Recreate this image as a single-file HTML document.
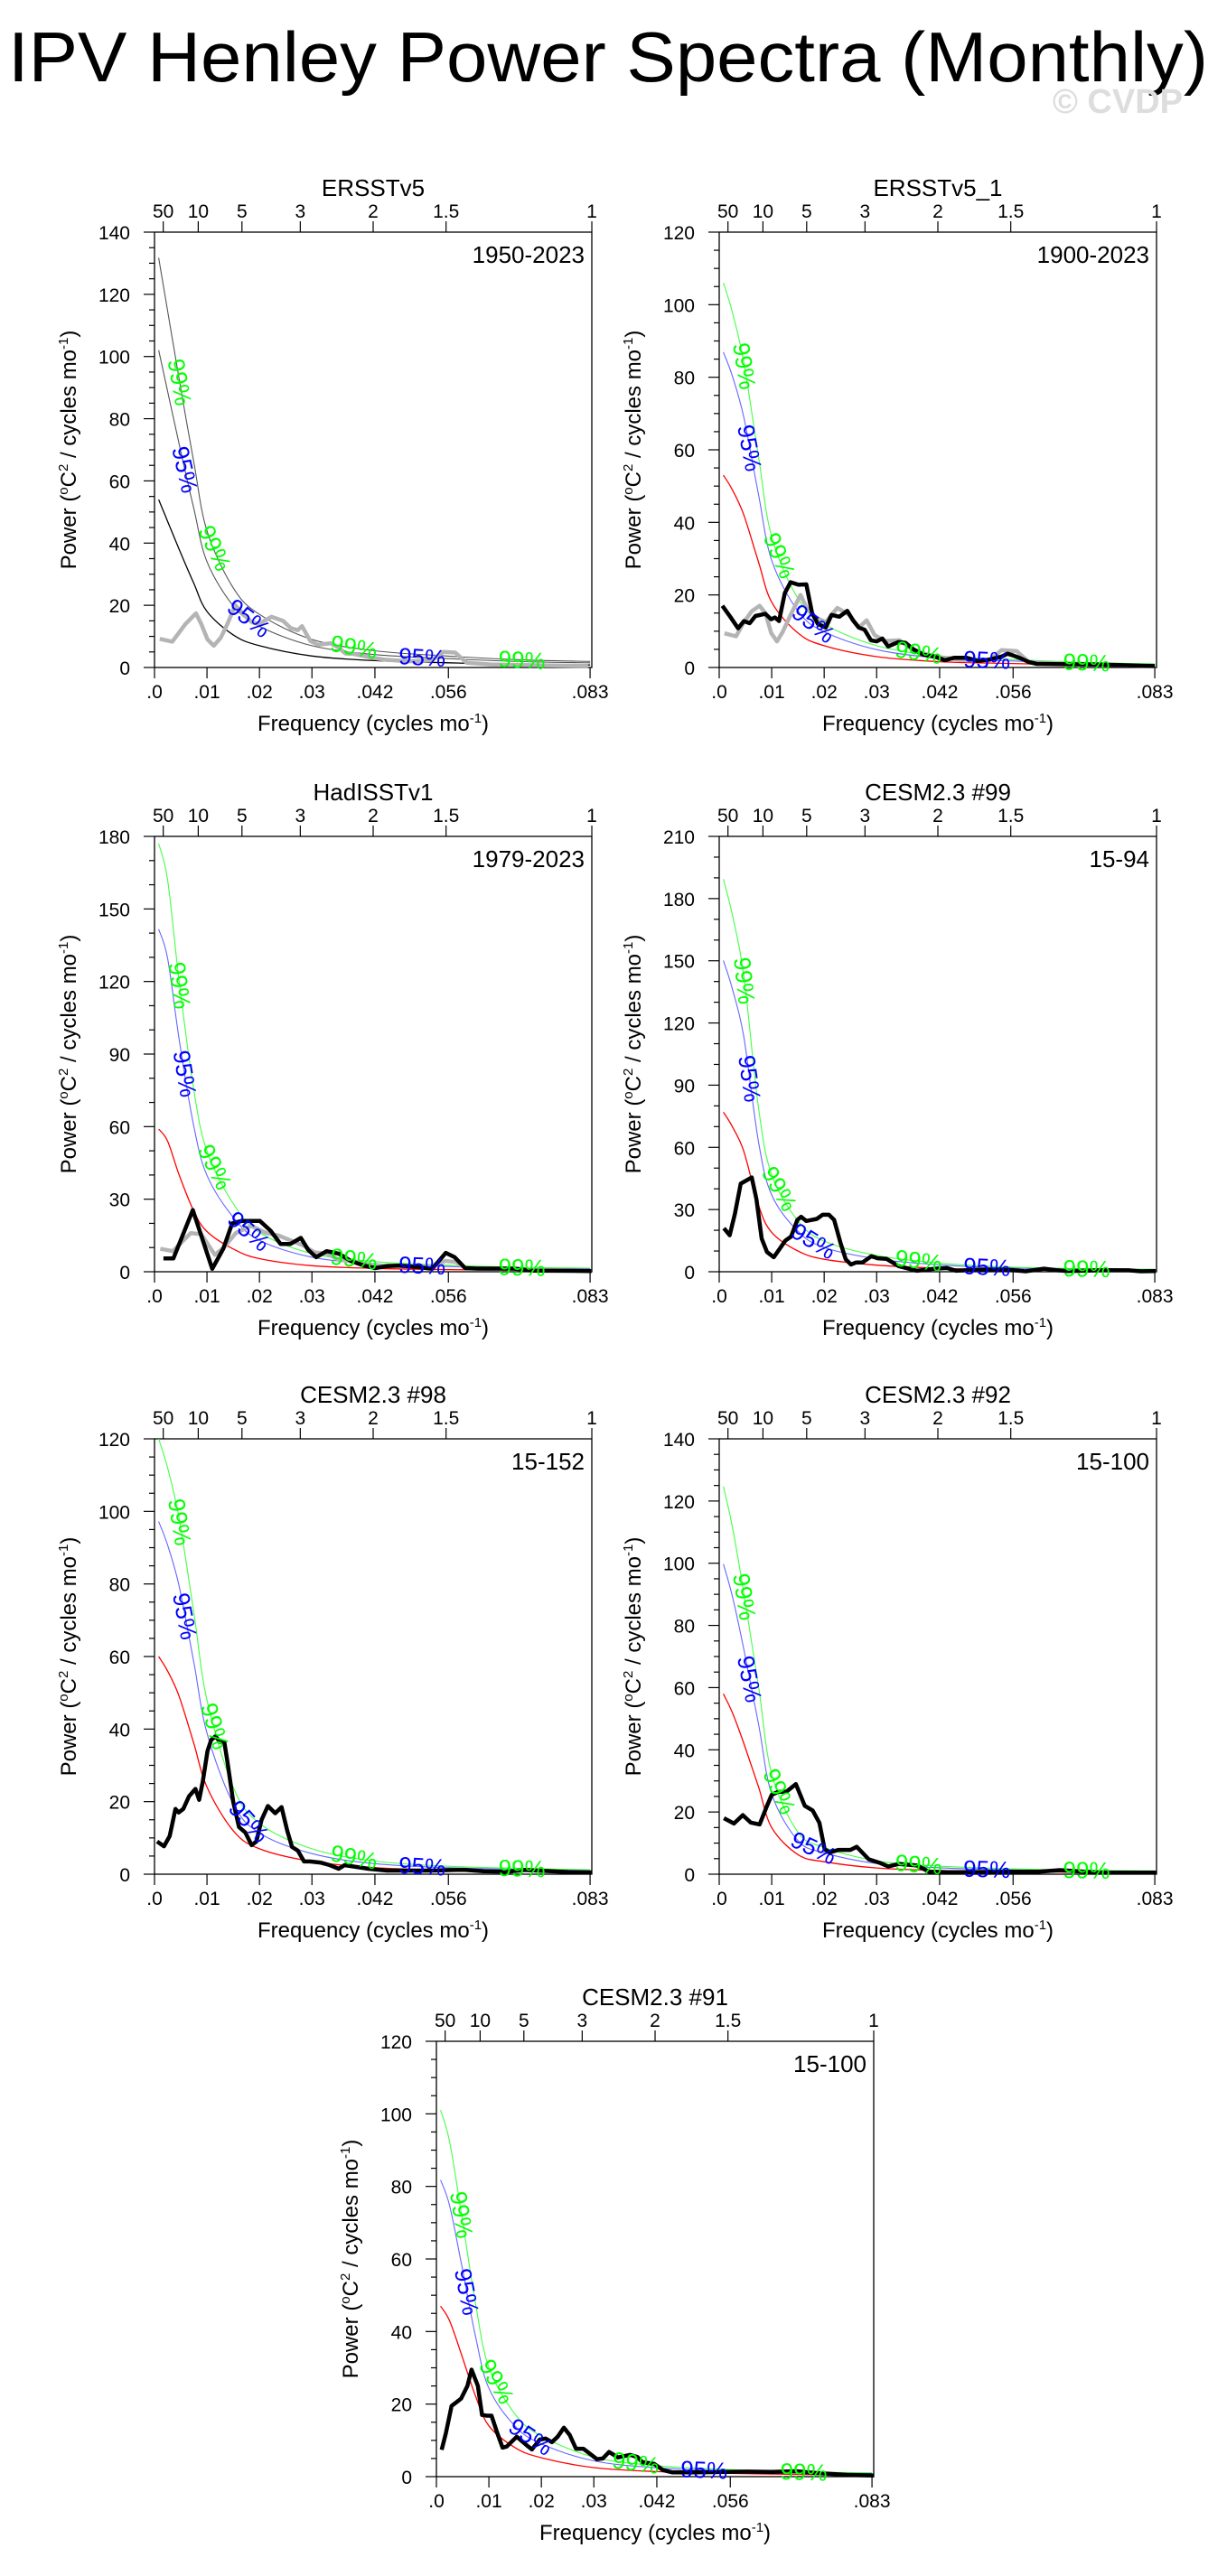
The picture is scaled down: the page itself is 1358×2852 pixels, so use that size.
<!DOCTYPE html>
<html><head><meta charset="utf-8"><style>
html,body{margin:0;padding:0;background:#fff;}
svg{display:block;font-family:"Liberation Sans",Arial,sans-serif;}
</style></head><body>
<svg id="chart" width="1358" height="2852" viewBox="0 0 1358 2852" xmlns="http://www.w3.org/2000/svg">
<rect width="1358" height="2852" fill="#fff"/>
<text x="9" y="90" font-size="78" textLength="1328" lengthAdjust="spacingAndGlyphs">IPV Henley Power Spectra (Monthly)</text>
<text x="1309" y="125" font-size="38" font-weight="bold" fill="#ddd" text-anchor="end">© CVDP</text>
</svg>
<script>
// ---- data arrays (frequency in cycles/mo, power in °C²/(cycles mo⁻¹)) ----
const redFreq=[.0008,.0025,.0047,.0075,.01,.015,.02,.03,.042,.056,.07,.083];
const p1Red=[54,47,38,27,18,10.5,7,3.7,2.2,1.5,1,.8];
const p2Red=[53,49,42,29,18,9.5,6,3,1.6,1.1,.7,.5];
const p3Red=[59,54,40,25,16.6,9.4,5.4,2.5,1.4,.9,.6,.5];
const p4Red=[77,70,58,32,19,10,6,3.2,1.7,.9,.6,.5];
const p5Red=[60,56,49,36,24,12,7,3.5,1.8,1.1,.8,.6];
const p6Red=[58,52,42,28,15,6.3,4,2,1.2,.8,.6,.5];
const p7Red=[47,43,34,22,14,8,5.2,2.5,1.4,.9,.6,.5];
const sig95=[1.89,1.64,2.4,1.95,1.62,1.72,1.74];
const sig99=[2.44,2.0,3.0,2.46,2.0,2.15,2.15];

const p1GrayFreq=[.001,.0034,.0059,.0079,.0089,.0101,.0113,.0126,.0139,.0154,.017,.0186,.02,.0209,.0223,.0245,.026,.0273,.0281,.0297,.0312,.0335,.035,.0364,.0379,.0409,.0439,.0484,.0528,.055,.0573,.0595,.064,.07,.0826];
const p1GrayPow=[9.2,8.3,14,17.4,14,9,7,9.5,14,20,17,14.5,14,15,16.3,15,12.6,12,13.3,8.5,7.3,7.8,6.5,4.5,4.4,3.3,2.5,2,2.3,5,4.8,1.5,1,.8,.5];

const p2Freq=[.0006,.0021,.0036,.0047,.0058,.0069,.0088,.0099,.0106,.0114,.0125,.0136,.0151,.0166,.0177,.0188,.0203,.0214,.0229,.0244,.0255,.0266,.0277,.0289,.03,.0311,.0322,.0341,.0355,.037,.0389,.0411,.043,.0448,.0471,.0493,.0515,.0538,.0549,.056,.0575,.059,.0605,.0657,.0731,.083];
const p2Pow=[17,14,10.8,12.8,12.2,14.2,14.8,13.3,13.8,12.8,20.5,23.5,22.8,22.9,15,12,11,14.5,14,15.6,13,11,10.4,7.5,7.2,8,5.8,7,6.8,5,3.5,3,2,2.7,2.7,1.8,2.2,3,3.8,3.3,2.5,1.5,1,.9,.8,.4];
const p2GrayFreq=[.001,.0032,.0047,.0062,.0077,.0088,.0099,.011,.0121,.0136,.0155,.0166,.0181,.0203,.0225,.0248,.0266,.0281,.0296,.0315,.0344,.0367,.0396,.0426,.0471,.0515,.0538,.0567,.059,.0657,.083];
const p2GrayPow=[9.4,8.6,12.5,15.5,17,15,9.5,7.2,9.8,14.5,20,16.6,14,12.5,16.4,14.5,11,13,9,7.3,7.5,5,3.6,2.7,2,2,4.8,4.5,1.5,1,.4];

const p3Freq=[.0017,.0036,.0073,.011,.0131,.0148,.0166,.0201,.0221,.024,.0259,.0279,.0293,.0308,.0328,.0351,.0374,.0397,.042,.0443,.0466,.05,.0529,.0555,.0572,.0592,.0615,.0684,.0719,.0833];
const p3Pow=[5.5,5.5,25.5,1.2,9.5,20,21,21,17,11.5,11.5,14,9,6,8.5,7.5,4.5,2.7,1.5,2.3,2.5,2,1.2,7.8,6,1.5,1.3,1.3,.5,.3];
const p3GrayFreq=[.0011,.0035,.0069,.0089,.0115,.0132,.0155,.0184,.0213,.0236,.0259,.0282,.0305,.0328,.0351,.0386,.042,.0466,.0523,.0555,.0575,.0592,.0833];
const p3GrayPow=[9.5,8.5,16,15.5,7,10,16,19,16,15,13,11,8,7.5,5,4,2.5,2.5,2,4.5,4,1.5,.3];

const p4Freq=[.0009,.002,.003,.0041,.0062,.0071,.0081,.0091,.0104,.0126,.0137,.0149,.0156,.0166,.0186,.0197,.0209,.0219,.0231,.0241,.0251,.0261,.0273,.029,.0302,.0319,.0342,.0377,.0411,.0434,.0451,.0492,.055,.0584,.0619,.0642,.0665,.0734,.078,.0803,.0832];
const p4Pow=[21,17.6,28,42.5,45.5,35,16,9.5,7,15,17,25,26.5,24.5,25.5,27.5,27.5,25,14,6,3.5,4.5,4.5,7.5,6.5,6.2,2.7,.5,1.5,1.8,.5,1,1,.2,1.5,.8,.3,.8,.7,.2,.3];

const p5Freq=[.0005,.0018,.0029,.004,.0046,.0055,.0066,.0078,.0085,.0092,.0101,.0108,.0116,.0125,.0133,.0139,.015,.0161,.0173,.0185,.0194,.0204,.0216,.023,.0242,.0253,.0262,.0273,.0285,.0296,.0316,.0334,.0351,.0362,.0385,.0408,.0443,.0477,.0529,.0575,.0592,.0627,.0673,.0707,.073,.0788,.0833];
const p5Pow=[9,7.7,10.5,18,17,18,21.5,23.5,20.5,25.5,34,37,38,36.5,36.5,31,20,13,11.5,8,9,15,18.8,16.8,18.5,12,7.5,6.5,3.5,3.5,3.2,2.5,1.5,2.5,2,1.5,1,1,1,1.2,1.2,.8,.7,1.2,1,.6,.5];

const p6Freq=[.0009,.0028,.0045,.006,.0077,.0091,.01,.0112,.0128,.0146,.0163,.0178,.0191,.0201,.0211,.0227,.025,.0262,.0285,.0308,.0322,.0343,.0377,.04,.0435,.0493,.0551,.0609,.0649,.0724,.0833];
const p6Pow=[18,16.3,19,16.6,16,22,25.5,26.5,26.5,29,22,20.5,16.5,8,7,7.8,7.8,8.8,4.8,3.5,2.5,3.3,2.8,.8,.6,.7,.8,.8,1.3,.5,.5];

const p7Freq=[.001,.0018,.0029,.0047,.0059,.0067,.0079,.0087,.0096,.0105,.0116,.0126,.0134,.0153,.0171,.0182,.0197,.0208,.022,.0231,.0243,.0254,.0266,.028,.0291,.0306,.0317,.0329,.0346,.0369,.0383,.0392,.0415,.0432,.0449,.0495,.0553,.0593,.0639,.0685,.0725,.0782,.0834];
const p7Pow=[7.4,12,19.5,21.5,25,29.5,25,17,16.8,16.8,12,8,8.3,11,8.8,7.5,10.2,10.5,9.5,11,13.5,11.5,7.7,7.7,6.5,4.8,5,6.8,5.3,6,5.4,4,3.5,1.8,1.2,1.2,1.3,1.4,1.3,1.5,1,.5,.3];

const bottomTicks=[0,.01,.02,.03,.042,.056,.083];
const bottomTickLabels=[".0",".01",".02",".03",".042",".056",".083"];
const periodTicks=[50,10,5,3,2,1.5,1];
const titles=["ERSSTv5","ERSSTv5_1","HadISSTv1","CESM2.3 #99","CESM2.3 #98","CESM2.3 #92","CESM2.3 #91"];
const yearLabels=["1950-2023","1900-2023","1979-2023","15-94","15-152","15-100","15-100"];
const yMaxes=[140,120,180,210,120,140,120];
const ySteps=[20,20,30,30,20,20,20];
const yMinors=[5,5,10,10,5,5,5];

const panels=[
 {L:171,T:257,red:p1Red,f:null,p:null,gf:p1GrayFreq,gp:p1GrayPow,mono:true},
 {L:796,T:257,red:p2Red,f:p2Freq,p:p2Pow,gf:p2GrayFreq,gp:p2GrayPow},
 {L:171,T:926,red:p3Red,f:p3Freq,p:p3Pow,gf:p3GrayFreq,gp:p3GrayPow},
 {L:796,T:926,red:p4Red,f:p4Freq,p:p4Pow},
 {L:171,T:1593,red:p5Red,f:p5Freq,p:p5Pow},
 {L:796,T:1593,red:p6Red,f:p6Freq,p:p6Pow},
 {L:483,T:2260,red:p7Red,f:p7Freq,p:p7Pow}
];
const W=484,H=482,FMAX=0.08333;
const NS="http://www.w3.org/2000/svg";
const svg=document.getElementById('chart');
function el(tag,attrs,parent){const e=document.createElementNS(NS,tag);for(const k in attrs)e.setAttribute(k,attrs[k]);(parent||svg).appendChild(e);return e;}
function smoothPath(pts){let d="M"+pts[0][0].toFixed(1)+","+pts[0][1].toFixed(1);
 for(let i=0;i<pts.length-1;i++){const p0=pts[Math.max(0,i-1)],p1=pts[i],p2=pts[i+1],p3=pts[Math.min(pts.length-1,i+2)];
  const c1=[p1[0]+(p2[0]-p0[0])/6,p1[1]+(p2[1]-p0[1])/6],c2=[p2[0]-(p3[0]-p1[0])/6,p2[1]-(p3[1]-p1[1])/6];
  d+="C"+c1[0].toFixed(1)+","+c1[1].toFixed(1)+" "+c2[0].toFixed(1)+","+c2[1].toFixed(1)+" "+p2[0].toFixed(1)+","+p2[1].toFixed(1);}
 return d;}
function interp(pts,x){for(let i=0;i<pts.length-1;i++){if(x>=pts[i][0]&&x<=pts[i+1][0]){const t=(x-pts[i][0])/(pts[i+1][0]-pts[i][0]);return [x,pts[i][1]+t*(pts[i+1][1]-pts[i][1]),Math.atan2(pts[i+1][1]-pts[i][1],pts[i+1][0]-pts[i][0])*180/Math.PI];}}return [x,pts[pts.length-1][1],0];}

panels.forEach((P,i)=>{
 const g=el('g',{});
 
 
 const ymax=yMaxes[i];
 const X=f=>P.L+f/FMAX*W, Y=v=>P.T+H-v/ymax*H;
 const t=el('text',{x:P.L+W/2,y:P.T-40,'font-size':26,'text-anchor':'middle'},g);t.textContent=titles[i];
 
 
 const yr=el('text',{x:P.L+W-8,y:P.T+34,'font-size':26,'text-anchor':'end'},g);yr.textContent=yearLabels[i];
 
 
 const fr=el('rect',{x:P.L,y:P.T,width:W,height:H,fill:'none',stroke:'#000','stroke-width':1.3},g);
 
 
 for(let v=0;v<=ymax+1e-9;v+=yMinors[i]){const major=Math.abs(v/ySteps[i]-Math.round(v/ySteps[i]))<1e-6;
  el('line',{x1:P.L-(major?12:6),x2:P.L,y1:Y(v),y2:Y(v),stroke:'#000','stroke-width':1.2},g);
  if(major){const tl=el('text',{x:P.L-27,y:Y(v)+8,'font-size':21,'text-anchor':'end'},g);tl.textContent=v;
   
   }}
 bottomTicks.forEach((f,k)=>{el('line',{x1:X(f),x2:X(f),y1:P.T+H,y2:P.T+H+12,stroke:'#000','stroke-width':1.2},g);
  const tl=el('text',{x:X(f),y:P.T+H+34,'font-size':21,'text-anchor':'middle'},g);tl.textContent=bottomTickLabels[k];
  
  });
 periodTicks.forEach(pv=>{const f=1/(12*pv);el('line',{x1:X(f),x2:X(f),y1:P.T,y2:P.T-12,stroke:'#000','stroke-width':1.2},g);
  const tl=el('text',{x:X(f),y:P.T-16,'font-size':21,'text-anchor':'middle'},g);tl.textContent=pv;
  
  });
 const yl=el('text',{x:0,y:0,'font-size':24,'text-anchor':'middle',transform:`translate(${P.L-87},${P.T+H/2}) rotate(-90)`},g);
 yl.innerHTML='Power (<tspan dy="-9" font-size="15">o</tspan><tspan dy="9">C</tspan><tspan dy="-9" font-size="15">2</tspan><tspan dy="9"> / cycles mo</tspan><tspan dy="-9" font-size="15">-1</tspan><tspan dy="9">)</tspan>';
 
 
 const xl=el('text',{x:P.L+W/2,y:P.T+H+70,'font-size':24,'text-anchor':'middle'},g);
 xl.innerHTML='Frequency (cycles mo<tspan dy="-9" font-size="15">-1</tspan><tspan dy="9">)</tspan>';
 
 
 const redPts=redFreq.map((f,k)=>[X(f),Y(P.red[k])]);
 const p95=redFreq.map((f,k)=>[X(f),Y(P.red[k]*sig95[i])]);
 const p99=redFreq.map((f,k)=>[X(f),Y(P.red[k]*sig99[i])]);
 const cRed=P.mono?'#000':'#f00',c95=P.mono?'#555':'#66f',c99=P.mono?'#555':'#4f4';
 const a=el('path',{d:smoothPath(p99),fill:'none',stroke:c99,'stroke-width':1.1},g);
 
 
 const b=el('path',{d:smoothPath(p95),fill:'none',stroke:c95,'stroke-width':1.1},g);
 
 
 const c=el('path',{d:smoothPath(redPts),fill:'none',stroke:cRed,'stroke-width':1.3},g);
 
 
 if(P.gf){const gl=el('polyline',{points:P.gf.map((f,k)=>X(f).toFixed(1)+','+Y(P.gp[k]).toFixed(1)).join(' '),fill:'none',stroke:'#b4b4b4','stroke-width':4.5,'stroke-linejoin':'round'},g);
  
  }
 if(P.f){const bl=el('polyline',{points:P.f.map((f,k)=>X(f).toFixed(1)+','+Y(P.p[k]).toFixed(1)).join(' '),fill:'none',stroke:'#000','stroke-width':4.5,'stroke-linejoin':'round'},g);
  
  }
 const lab=(pts,f,txt,col)=>{const q=interp(pts,X(f));const tx=el('text',{x:0,y:0,'font-size':26,fill:col,'text-anchor':'middle',transform:`translate(${q[0].toFixed(1)},${q[1].toFixed(1)}) rotate(${q[2].toFixed(1)}) translate(0,9)`},g);tx.textContent=txt;
  
  };
 [.0048,.0115,.038,.070].forEach(f=>lab(p99,f,'99%','#0f0'));
 [.0058,.018,.051].forEach(f=>lab(p95,f,'95%','#00f'));
});
</script>
</body></html>
